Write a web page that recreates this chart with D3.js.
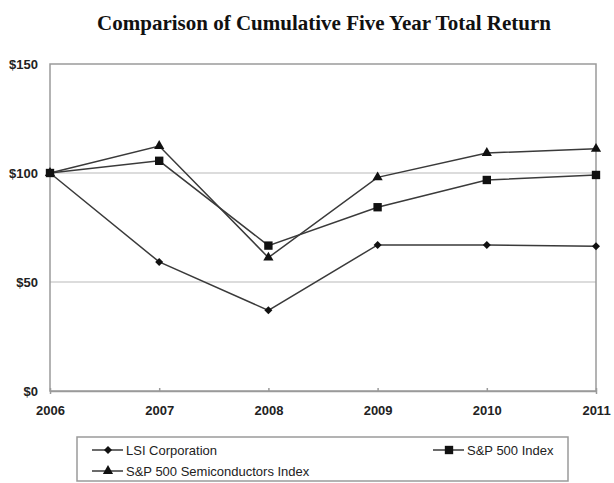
<!DOCTYPE html>
<html><head><meta charset="utf-8">
<script src="https://cdn.jsdelivr.net/npm/d3@7"></script>
<style>body{margin:0;background:#fff}svg{display:block}</style>
</head><body>
<svg id="chart" width="614" height="483"></svg>
<script>
const years = ["2006","2007","2008","2009","2010","2011"];
const lsi = [100, 59.2, 37, 67, 67, 66.4];
const sp500 = [100, 105.6, 66.7, 84.3, 96.8, 99.1];
const semi = [100, 112.4, 61.2, 98, 109.2, 111.1];
const yTicks = [0, 50, 100, 150];
const seriesNames = ["LSI Corporation", "S&P 500 Index", "S&P 500 Semiconductors Index"];

const svg = d3.select("#chart");
const L = 50, R = 596, T = 64, B = 391;
const x = d3.scalePoint().domain(years).range([L, R]);
const y = d3.scaleLinear().domain([0, 150]).range([B, T]);

svg.append("text").attr("x", 324).attr("y", 30).attr("text-anchor", "middle")
  .attr("font-family", "Liberation Serif, Times New Roman, serif").attr("font-weight", "bold")
  .attr("font-size", 21).attr("fill", "#111").text("Comparison of Cumulative Five Year Total Return");

// gridlines
svg.append("g").selectAll("line").data(yTicks.filter(d => d > 0 && d < 150)).join("line")
  .attr("x1", L).attr("x2", R).attr("y1", d => y(d)).attr("y2", d => y(d))
  .attr("stroke", "#d0d0d0").attr("stroke-width", 1.5);

// plot border
svg.append("rect").attr("x", L).attr("y", T).attr("width", R - L).attr("height", B - T)
  .attr("fill", "none").attr("stroke", "#9a9a9a").attr("stroke-width", 1.5);

// axes
const yAxis = d3.axisLeft(y).tickValues(yTicks).tickFormat(d => "$" + d).tickSize(0).tickPadding(12);
const gy = svg.append("g").attr("transform", `translate(${L},0)`).call(yAxis);
gy.select(".domain").remove();
gy.selectAll("text").attr("font-family", "Liberation Sans, Arial, sans-serif").attr("font-weight", "bold")
  .attr("font-size", 13).attr("fill", "#222");

const xAxis = d3.axisBottom(x).tickSize(3).tickPadding(10);
const gx = svg.append("g").attr("transform", `translate(0,${B})`).call(xAxis);
gx.select(".domain").attr("stroke", "#9a9a9a").attr("stroke-width", 1.5);
gx.selectAll("line").attr("stroke", "#9a9a9a").attr("stroke-width", 1.5).attr("y1", -3).attr("y2", 0);
gx.selectAll("text").attr("font-family", "Liberation Sans, Arial, sans-serif").attr("font-weight", "bold")
  .attr("font-size", 13).attr("fill", "#222").attr("dy", null).attr("y", 24);

const line = d3.line().x((d, i) => x(years[i])).y(d => y(d));
const diamond = { draw(ctx, size) { const r = Math.sqrt(size / 2); ctx.moveTo(0, -r); ctx.lineTo(r, 0); ctx.lineTo(0, r); ctx.lineTo(-r, 0); ctx.closePath(); } };
const symbols = [diamond, d3.symbolSquare, d3.symbolTriangle];
const sizes = [32, 70, 45];
const data = [lsi, sp500, semi];

data.forEach((vals, k) => {
  svg.append("path").datum(vals).attr("d", line).attr("fill", "none")
    .attr("stroke", "#3a3a3a").attr("stroke-width", 1.5);
});
data.forEach((vals, k) => {
  svg.append("g").selectAll("path").data(vals).join("path")
    .attr("transform", (d, i) => `translate(${x(years[i])},${y(d)})`)
    .attr("d", d3.symbol().type(symbols[k]).size(sizes[k])).attr("fill", "#111");
});

// legend
const lg = svg.append("g");
lg.append("rect").attr("x", 77).attr("y", 437).attr("width", 491).attr("height", 44)
  .attr("fill", "#fff").attr("stroke", "#9a9a9a").attr("stroke-width", 1.5);
const legPos = [[92, 450], [433, 450], [92, 471]];
seriesNames.forEach((name, k) => {
  const [lx, ly] = legPos[k];
  lg.append("line").attr("x1", lx).attr("x2", lx + 31).attr("y1", ly).attr("y2", ly)
    .attr("stroke", "#3a3a3a").attr("stroke-width", 1.5);
  lg.append("path").attr("transform", `translate(${lx + 16},${ly})`)
    .attr("d", d3.symbol().type(symbols[k]).size(sizes[k])).attr("fill", "#111");
  lg.append("text").attr("x", lx + 34).attr("y", ly + 4.5)
    .attr("font-family", "Liberation Sans, Arial, sans-serif").attr("font-size", 13).attr("fill", "#222")
    .text(name);
});
</script>
</body></html>
